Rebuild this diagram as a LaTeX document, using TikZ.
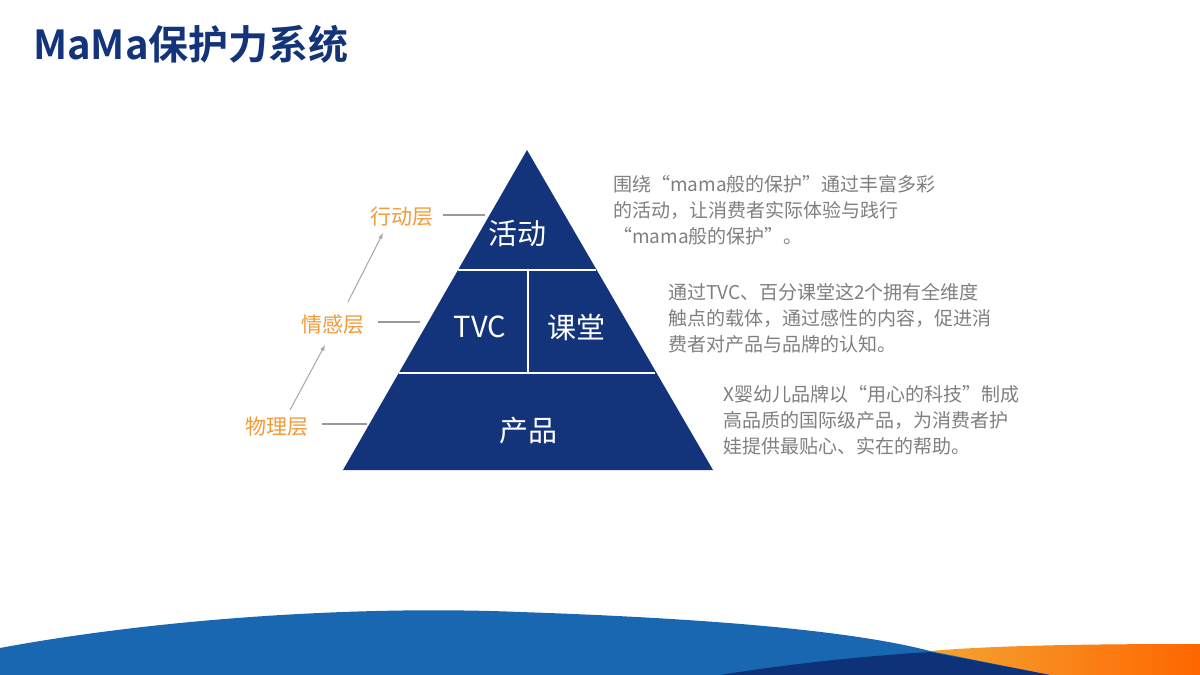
\documentclass[tikz,border=0pt]{standalone}
\usepackage{fontspec}
\setmainfont{Noto Sans CJK SC}
\newfontfamily\cjkb{Noto Sans CJK SC Bold}
\definecolor{navy}{HTML}{13337A}
\definecolor{wblue}{HTML}{1A67B1}
\definecolor{wnavy}{HTML}{0E3277}
\definecolor{orng}{HTML}{F29A38}
\definecolor{gtxt}{HTML}{7F7F7F}
\begin{document}
\begin{tikzpicture}[x=1pt,y=-1pt,
  lvl/.style={text=orng,font=\fontsize{21}{21}\selectfont,inner sep=0},
  para/.style={text=gtxt,font=\fontsize{19}{26}\selectfont,align=left,anchor=north west,inner sep=0},
  ptext/.style={text=white,font=\fontsize{29}{29}\selectfont,inner sep=0},
  tick/.style={draw=gray!80,line width=1.2pt},
  up/.style={draw=gray!70,line width=1pt,-latex}]
\useasboundingbox (0,0) rectangle (1200,675);
% bottom wave
\shade[left color=orng!90!yellow,right color=orange!80!red] (930,651) .. controls (1000,645) and (1100,644) .. (1200,644) -- (1200,675) -- (1040,675) -- cycle;
\fill[wblue] (0,648) .. controls (150,620) and (350,605) .. (520,612) .. controls (700,618) and (850,630) .. (930,651) -- (1050,675) -- (0,675) -- cycle;
\fill[wnavy] (720,675) .. controls (800,662) and (880,655) .. (930,652) -- (1050,675) -- cycle;
% title
\node[anchor=west,text=navy,font=\cjkb\fontsize{40}{40}\selectfont,inner sep=0] (title) at (33,44) {MaMa保护力系统};
% pyramid
\fill[navy] (527,150) -- (713,470) -- (343,470) -- cycle;
\draw[white,line width=2pt] (458,270) -- (596,270);
\draw[white,line width=2pt] (399,373) -- (655,373);
\draw[white,line width=2pt] (528,270) -- (528,373);
\node[ptext] (a) at (517,234) {活动};
\node[ptext] (b) at (480,327) {TVC};
\node[ptext] (c) at (576,327) {课堂};
\node[ptext] (d) at (528,431) {产品};
% level labels
\node[lvl] (l1) at (402,217) {行动层};
\node[lvl] (l2) at (333,325) {情感层};
\node[lvl] (l3) at (277,427) {物理层};
\coordinate (t1) at (485,215); \coordinate (t2) at (420,322); \coordinate (t3) at (367,424);
\draw[tick] (443,215) -- (t1);
\draw[tick] (378,322) -- (t2);
\draw[tick] (322,424) -- (t3);
\draw[up] (290,410) -- (325,345);
\draw[up] (348,302) -- (383,233);
% paragraphs
\node[para] (p1) at (613,175) {围绕“mama般的保护”通过丰富多彩\\的活动，让消费者实际体验与践行\\“mama般的保护”。};
\node[para] (p2) at (668,283) {通过TVC、百分课堂这2个拥有全维度\\触点的载体，通过感性的内容，促进消\\费者对产品与品牌的认知。};
\node[para] (p3) at (723,385) {X婴幼儿品牌以“用心的科技”制成\\高品质的国际级产品，为消费者护\\娃提供最贴心、实在的帮助。};
\end{tikzpicture}
\end{document}
